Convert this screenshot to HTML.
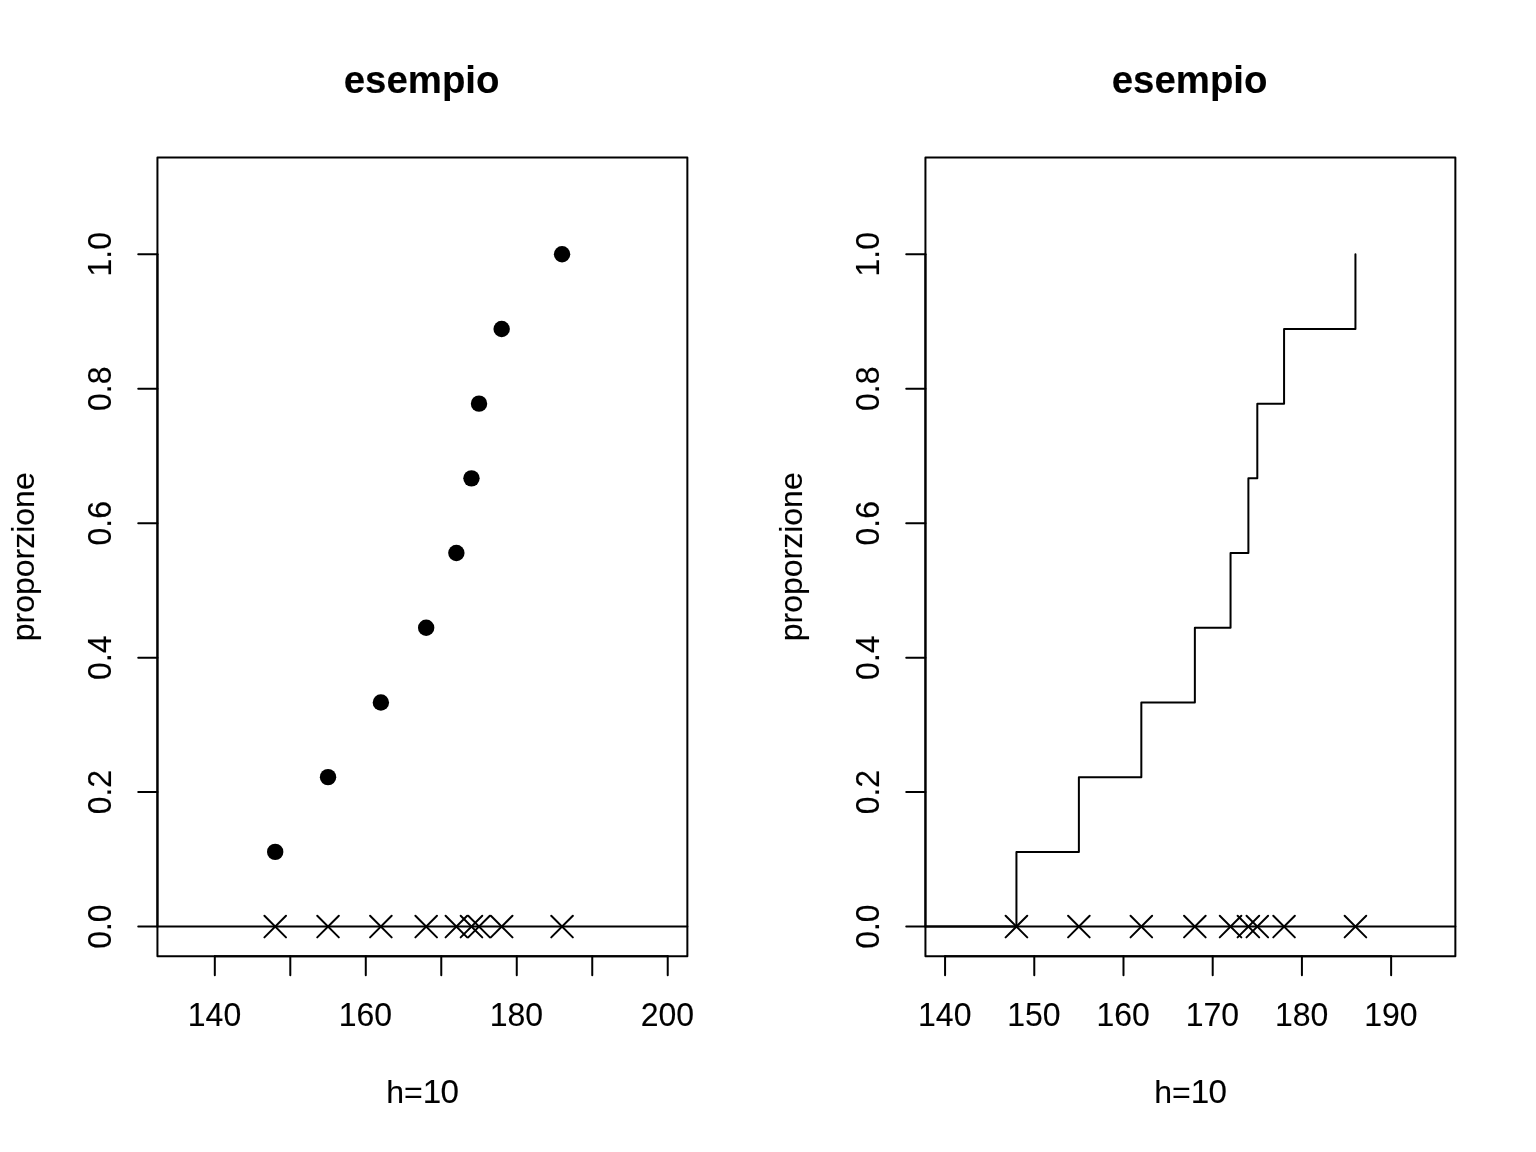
<!DOCTYPE html>
<html lang="it">
<head>
<meta charset="utf-8">
<title>esempio</title>
<style>
html,body{margin:0;padding:0;background:#fff;}
body{width:1536px;height:1152px;overflow:hidden;}
svg{display:block;}
text{font-family:"Liberation Sans", Arial, Helvetica, sans-serif;font-size:32px;fill:#000;text-anchor:middle;stroke:#000;stroke-width:0.12;stroke-linejoin:round;}
.ttl{font-weight:bold;font-size:38.4px;}
.dg{font-size:33.2px;letter-spacing:-0.66px;}
.ln{fill:none;stroke:#000;stroke-width:2;stroke-linecap:round;stroke-linejoin:round;}
.pt{fill:#000;stroke:none;}
</style>
</head>
<body>
<svg width="1536" height="1152" viewBox="0 0 1536 1152">
<rect width="1536" height="1152" fill="#fff"/>
<g id="panel-points">
<g class="pt">
<circle cx="275.2" cy="851.88" r="8.2"/>
<circle cx="328.04" cy="777.17" r="8.2"/>
<circle cx="380.88" cy="702.47" r="8.2"/>
<circle cx="426.17" cy="627.77" r="8.2"/>
<circle cx="456.37" cy="553.06" r="8.2"/>
<circle cx="471.47" cy="478.36" r="8.2"/>
<circle cx="479.02" cy="403.66" r="8.2"/>
<circle cx="501.66" cy="328.96" r="8.2"/>
<circle cx="562.05" cy="254.25" r="8.2"/>
</g>
<g class="ln">
<rect x="157.44" y="157.44" width="529.92" height="798.72"/>
<path d="M214.81 956.16H667.73"/>
<path d="M214.81 956.16v19.2M290.3 956.16v19.2M365.78 956.16v19.2M441.27 956.16v19.2M516.76 956.16v19.2M592.25 956.16v19.2M667.73 956.16v19.2"/>
<path d="M157.44 926.58V254.25"/>
<path d="M157.44 926.58h-19.2M157.44 792.11h-19.2M157.44 657.65h-19.2M157.44 523.18h-19.2M157.44 388.72h-19.2M157.44 254.25h-19.2"/>
<path d="M157.44 926.58H687.36"/>
<path d="M264.4 915.78l21.6 21.6"/><path d="M264.4 937.38l21.6 -21.6"/>
<path d="M317.24 915.78l21.6 21.6"/><path d="M317.24 937.38l21.6 -21.6"/>
<path d="M370.08 915.78l21.6 21.6"/><path d="M370.08 937.38l21.6 -21.6"/>
<path d="M415.37 915.78l21.6 21.6"/><path d="M415.37 937.38l21.6 -21.6"/>
<path d="M445.57 915.78l21.6 21.6"/><path d="M445.57 937.38l21.6 -21.6"/>
<path d="M460.67 915.78l21.6 21.6"/><path d="M460.67 937.38l21.6 -21.6"/>
<path d="M468.22 915.78l21.6 21.6"/><path d="M468.22 937.38l21.6 -21.6"/>
<path d="M490.86 915.78l21.6 21.6"/><path d="M490.86 937.38l21.6 -21.6"/>
<path d="M551.25 915.78l21.6 21.6"/><path d="M551.25 937.38l21.6 -21.6"/>
</g>
<text class="ttl" x="421.6" y="93">esempio</text>
<text x="422.2" y="1103.2">h=<tspan class="dg">10</tspan></text>
<text transform="translate(214.51 1026.3) scale(1 1.035)">140</text>
<text transform="translate(365.48 1026.3) scale(1 1.035)">160</text>
<text transform="translate(516.46 1026.3) scale(1 1.035)">180</text>
<text transform="translate(667.43 1026.3) scale(1 1.035)">200</text>
<text transform="translate(111.34 926.58) rotate(-90) scale(1 1.035)">0.0</text>
<text transform="translate(111.34 792.11) rotate(-90) scale(1 1.035)">0.2</text>
<text transform="translate(111.34 657.65) rotate(-90) scale(1 1.035)">0.4</text>
<text transform="translate(111.34 523.18) rotate(-90) scale(1 1.035)">0.6</text>
<text transform="translate(111.34 388.72) rotate(-90) scale(1 1.035)">0.8</text>
<text transform="translate(111.34 254.25) rotate(-90) scale(1 1.035)">1.0</text>
<text transform="translate(34.04 556.8) rotate(-90)">proporzione</text>
</g>
<g id="panel-steps">
<g class="ln">
<polyline points="925.44,926.58 1016.44,926.58 1016.44,851.88 1078.88,851.88 1078.88,777.17 1141.33,777.17 1141.33,702.47 1194.86,702.47 1194.86,627.77 1230.55,627.77 1230.55,553.06 1248.39,553.06 1248.39,478.36 1257.31,478.36 1257.31,403.66 1284.07,403.66 1284.07,328.96 1355.44,328.96 1355.44,254.25"/>
<rect x="925.44" y="157.44" width="529.92" height="798.72"/>
<path d="M945.07 956.16H1391.13"/>
<path d="M945.07 956.16v19.2M1034.28 956.16v19.2M1123.49 956.16v19.2M1212.7 956.16v19.2M1301.92 956.16v19.2M1391.13 956.16v19.2"/>
<path d="M925.44 926.58V254.25"/>
<path d="M925.44 926.58h-19.2M925.44 792.11h-19.2M925.44 657.65h-19.2M925.44 523.18h-19.2M925.44 388.72h-19.2M925.44 254.25h-19.2"/>
<path d="M925.44 926.58H1455.36"/>
<path d="M1005.64 915.78l21.6 21.6"/><path d="M1005.64 937.38l21.6 -21.6"/>
<path d="M1068.08 915.78l21.6 21.6"/><path d="M1068.08 937.38l21.6 -21.6"/>
<path d="M1130.53 915.78l21.6 21.6"/><path d="M1130.53 937.38l21.6 -21.6"/>
<path d="M1184.06 915.78l21.6 21.6"/><path d="M1184.06 937.38l21.6 -21.6"/>
<path d="M1219.75 915.78l21.6 21.6"/><path d="M1219.75 937.38l21.6 -21.6"/>
<path d="M1237.59 915.78l21.6 21.6"/><path d="M1237.59 937.38l21.6 -21.6"/>
<path d="M1246.51 915.78l21.6 21.6"/><path d="M1246.51 937.38l21.6 -21.6"/>
<path d="M1273.27 915.78l21.6 21.6"/><path d="M1273.27 937.38l21.6 -21.6"/>
<path d="M1344.64 915.78l21.6 21.6"/><path d="M1344.64 937.38l21.6 -21.6"/>
</g>
<text class="ttl" x="1189.6" y="93">esempio</text>
<text x="1190.2" y="1103.2">h=<tspan class="dg">10</tspan></text>
<text transform="translate(944.77 1026.3) scale(1 1.035)">140</text>
<text transform="translate(1033.98 1026.3) scale(1 1.035)">150</text>
<text transform="translate(1123.19 1026.3) scale(1 1.035)">160</text>
<text transform="translate(1212.4 1026.3) scale(1 1.035)">170</text>
<text transform="translate(1301.62 1026.3) scale(1 1.035)">180</text>
<text transform="translate(1390.83 1026.3) scale(1 1.035)">190</text>
<text transform="translate(879.34 926.58) rotate(-90) scale(1 1.035)">0.0</text>
<text transform="translate(879.34 792.11) rotate(-90) scale(1 1.035)">0.2</text>
<text transform="translate(879.34 657.65) rotate(-90) scale(1 1.035)">0.4</text>
<text transform="translate(879.34 523.18) rotate(-90) scale(1 1.035)">0.6</text>
<text transform="translate(879.34 388.72) rotate(-90) scale(1 1.035)">0.8</text>
<text transform="translate(879.34 254.25) rotate(-90) scale(1 1.035)">1.0</text>
<text transform="translate(802.04 556.8) rotate(-90)">proporzione</text>
</g>
</svg>
</body>
</html>
